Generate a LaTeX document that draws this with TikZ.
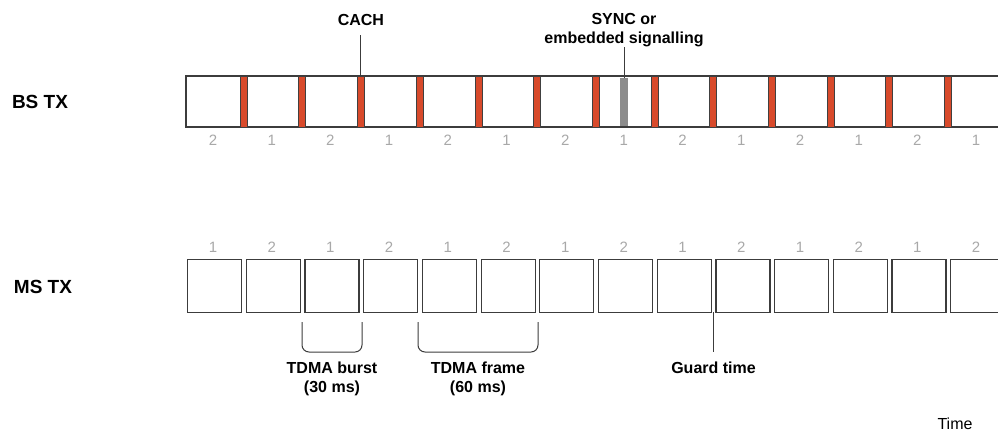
\documentclass[tikz,border=0pt]{standalone}
\usepackage{fontspec}
\setmainfont{Liberation Sans}
\usetikzlibrary{positioning}

\definecolor{cachred}{HTML}{D84A2B}
\definecolor{syncgray}{HTML}{8C8C8C}
\definecolor{slotgray}{HTML}{A8A8A8}
\definecolor{linegray}{HTML}{3C3C3C}

\tikzset{
    rowlabel/.style={font=\fontsize{19}{22}\selectfont\bfseries},
    callout/.style={font=\fontsize{16}{19}\selectfont\bfseries, align=center, inner sep=0pt},
    timelbl/.style={font=\fontsize{16}{19}\selectfont},
    slotnum/.style={font=\fontsize{15}{18}\selectfont, text=slotgray},
    carrier/.style={draw=linegray, line width=1.2pt},
    cachbar/.style={draw=black!75, fill=cachred, line width=0.6pt, minimum width=7pt, minimum height=51pt, inner sep=0pt},
    syncbar/.style={fill=syncgray, minimum width=8pt, minimum height=48pt, inner sep=0pt},
    msbox/.style={draw=linegray, line width=1.2pt, minimum width=54pt, minimum height=53pt, inner sep=0pt, anchor=north west},
    callline/.style={draw=linegray, line width=1pt},
    bracket/.style={draw=linegray, line width=1pt, rounded corners=7pt},
}

\begin{document}
\begin{tikzpicture}[x=1pt,y=-1pt]
    \useasboundingbox (0,0) rectangle (998,432);

    % Row labels
    \node[rowlabel] (bstx) at (40,102) {BS TX};
    \node[rowlabel] (mstx) at (43,287) {MS TX};

    % BS TX carrier, runs on past the right edge
    \draw[carrier] (1010,76) -- (186,76) -- (186,127) -- (1010,127);

    % CACH between the slots
    \foreach \i in {0,...,12} {
        \node[cachbar] (cach\i) at (243.5+\i*58.7,101.5) {};
    }
    \node[syncbar] (sync) at (624,102) {};

    % Slot numbers
    \foreach \i in {0,...,13} {
        \pgfmathtruncatemacro{\bsnum}{2-mod(\i,2)}
        \pgfmathtruncatemacro{\msnum}{1+mod(\i,2)}
        \node[slotnum] (bsn\i) at (213+\i*58.7,140.5) {\bsnum};
        \node[slotnum] (msn\i) at (213+\i*58.7,247) {\msnum};
    }

    % MS TX bursts
    \foreach \i in {0,...,13} {
        \node[msbox] (ms\i) at (187+\i*58.7,259) {};
    }

    % Callouts on BS TX
    \node[callout, anchor=base] (cachlbl) at (360.9,25) {CACH};
    \draw[callline] ([yshift=-10pt]cachlbl.south) -- (cach2.north);
    \node[callout, anchor=south] (synclbl) at (624,47) {SYNC or\\embedded signalling};
    \draw[callline] (synclbl.south) -- (sync.north);

    % Burst and frame brackets
    \draw[bracket] (302,322) -- (302,352) -- (362,352) -- (362,322);
    \node[callout, anchor=north] (burstlbl) at (332,362) {TDMA burst\\(30 ms)};
    \draw[bracket] (418,322) -- (418,352) -- (538,352) -- (538,322);
    \node[callout, anchor=north] (framelbl) at (478,362) {TDMA frame\\(60 ms)};

    % Guard time
    \coordinate (gap) at (713.5,312);
    \node[callout, anchor=north] (guardlbl) at (713.5,362) {Guard time};
    \draw[callline] (gap) -- ([yshift=10pt]guardlbl.north);

    \node[timelbl] (time) at (955,424) {Time};
\end{tikzpicture}
\end{document}
